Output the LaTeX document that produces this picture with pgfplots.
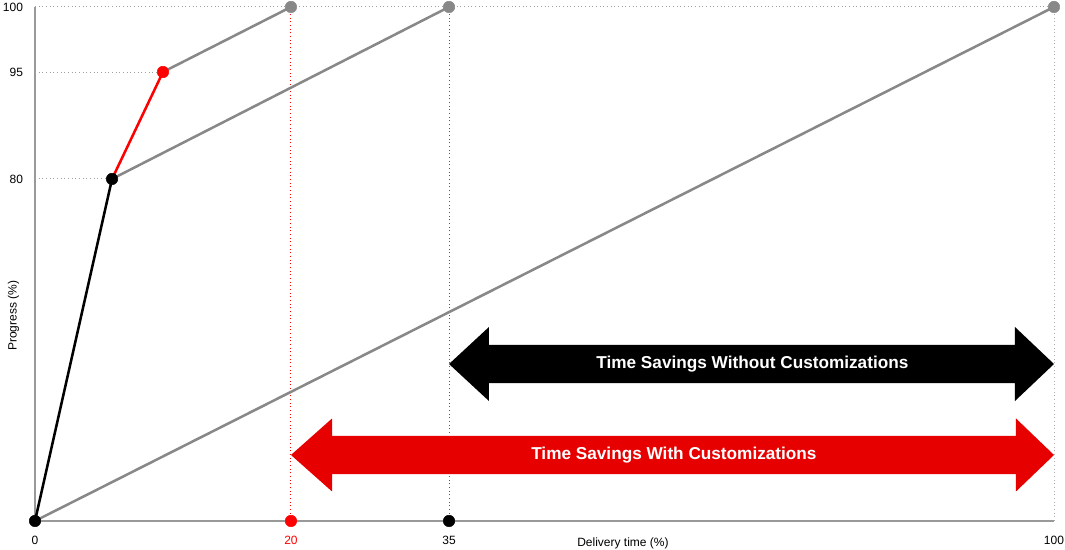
\documentclass[border=0pt]{standalone}
\usepackage{fontspec}
\setmainfont{Liberation Sans}
\usepackage{pgfplots}
\pgfplotsset{compat=1.18}
\definecolor{lgray}{HTML}{888888}
\definecolor{axgray}{HTML}{999999}
\definecolor{dred}{HTML}{E60000}
\definecolor{pred}{HTML}{FF0000}
\begin{document}
\begin{tikzpicture}
\begin{axis}[
  scale only axis,
  width=764.25pt, height=385.5pt,
  xmin=0, xmax=100, ymin=0, ymax=100,
  clip=false,
  axis lines=left,
  axis line style={axgray, line width=0.9pt, -},
  major tick length=0pt,
  xtick={0,25.12,40.63,100},
  xticklabels={0,\textcolor{pred}{20},35,100},
  ytick={66.54,87.35,100},
  yticklabels={80,95,100},
  tick label style={font=\fontsize{9}{10}\selectfont},
  /pgf/number format/assume math mode=true,
  xticklabel style={yshift=-8pt},
  yticklabel style={xshift=-5.5pt},
]
% guide lines
\addplot[lgray!80, dotted, line width=0.75pt] coordinates {(0,66.54)(7.56,66.54)};
\addplot[lgray!80, dotted, line width=0.75pt] coordinates {(0,87.35)(12.56,87.35)};
\addplot[lgray!80, dotted, line width=0.75pt] coordinates {(0,100)(100,100)};
\addplot[pred, dotted, line width=0.75pt] coordinates {(25.12,0)(25.12,100)};
\addplot[black!65, dotted, line width=0.75pt] coordinates {(40.63,0)(40.63,100)};
\addplot[lgray!70, dotted, line width=0.75pt] coordinates {(100,0)(100,100)};
% arrows
\addplot[fill=black, draw=none] coordinates {
  (40.63,30.54)(44.55,37.74)(44.55,34.24)(96.17,34.24)(96.17,37.74)
  (100,30.54)(96.17,23.34)(96.17,26.84)(44.55,26.84)(44.55,23.34)} --cycle;
\addplot[fill=dred, draw=none] coordinates {
  (25.12,12.84)(29.15,19.94)(29.15,16.54)(96.27,16.54)(96.27,19.94)
  (100,12.84)(96.27,5.74)(96.27,9.14)(29.15,9.14)(29.15,5.74)} --cycle;
\node[white, font=\fontsize{12.9}{14}\selectfont\bfseries] at (axis cs:70.4,30.54) {Time Savings Without Customizations};
\node[white, font=\fontsize{12.9}{14}\selectfont\bfseries] at (axis cs:62.7,12.84) {Time Savings With Customizations};
% lines
\addplot[lgray, line width=1.9pt] coordinates {(0,0)(100,100)};
\addplot[lgray, line width=1.9pt] coordinates {(7.56,66.54)(40.63,100)};
\addplot[lgray, line width=1.9pt] coordinates {(12.56,87.35)(25.12,100)};
\addplot[pred, line width=1.9pt] coordinates {(7.56,66.54)(12.56,87.35)};
\addplot[black, line width=1.9pt] coordinates {(0,0)(7.56,66.54)};
% markers
\addplot[only marks, mark=*, mark size=4.3pt, lgray] coordinates {(25.12,100)(40.63,100)(100,100)};
\addplot[only marks, mark=*, mark size=4.3pt, pred] coordinates {(12.56,87.35)(25.12,0)};
\addplot[only marks, mark=*, mark size=4.3pt, black] coordinates {(0,0)(7.56,66.54)(40.63,0)};
% labels
\node[font=\fontsize{9}{10}\selectfont, anchor=base] at (axis cs:57.7,-5.0) {Delivery time (\%)};
\node[font=\fontsize{9}{10}\selectfont, rotate=90] at (axis cs:-2.1,39.9) {Progress (\%)};
\coordinate (bbA) at (axis cs:-3.435,-5.64);
\coordinate (bbB) at (axis cs:101.08,101.36);
\end{axis}
\pgfresetboundingbox
\path (bbA) rectangle (bbB);
\end{tikzpicture}
\end{document}
